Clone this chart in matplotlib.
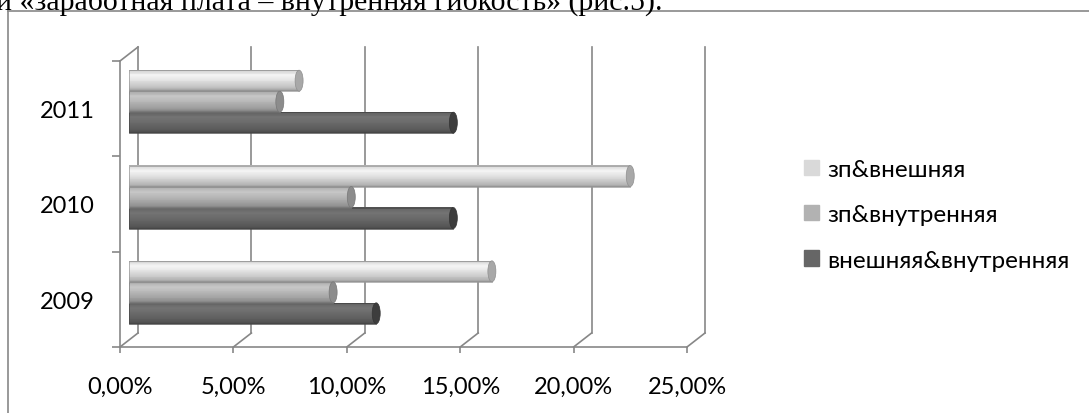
import matplotlib.pyplot as plt
import numpy as np
from matplotlib.patches import Patch, Ellipse, Rectangle
from matplotlib.lines import Line2D

# Data
years = ['2009', '2010', '2011']
series_names = ['зп&внешняя', 'зп&внутренняя', 'внешняя&внутренняя']
zp_ext = [0.160, 0.221, 0.075]      # зп&внешняя
zp_int = [0.090, 0.098, 0.0665]     # зп&внутренняя
ext_int = [0.109, 0.143, 0.143]     # внешняя&внутренняя
x_ticks = [0.0, 0.05, 0.10, 0.15, 0.20, 0.25]

W, H = 1089, 414
fig = plt.figure(figsize=(W / 100, H / 100), dpi=100)
plt.rcParams['font.family'] = ['Lato', 'DejaVu Sans']
label_size = 17

grid_col = '#878787'
lw = 1.2

# outer chart frame (runs off the right and bottom edges)
fig.add_artist(Line2D([8 / W, 1.0], [1 - 12 / H, 1 - 12 / H], color=grid_col, lw=lw))
fig.add_artist(Line2D([8 / W, 8 / W], [1 - 12 / H, 0.0], color=grid_col, lw=lw))

# caption text above the chart, cut by the top edge
fig.text(-4 / W, 1 - 10 / H, 'и «заработная плата – внутренняя гибкость» (рис.5).',
         family='Liberation Serif', fontsize=21.5, ha='left', va='baseline')

# front plane of the plot
ax_l, ax_b, ax_w, ax_h = 120, 348, 567, 286
ax = fig.add_axes([ax_l / W, 1 - ax_b / H, ax_w / W, ax_h / H])
ax.set_xlim(0, 0.25)
ax.set_ylim(0, 3)
ax.patch.set_visible(False)

# pixel -> data unit conversion for the depth offsets
px_x = 0.25 / ax_w
px_y = 3.0 / ax_h
depth_x, depth_y = 18 * px_x, 14 * px_y
mid_x, mid_y = 9 * px_x, 7 * px_y

# back wall gridlines and floor diagonals
for t in x_ticks:
    ax.plot([t + depth_x, t + depth_x], [depth_y, 3 + depth_y], color=grid_col, lw=lw,
            clip_on=False, zorder=1)
    ax.plot([t, t + depth_x], [0, depth_y], color=grid_col, lw=lw, clip_on=False, zorder=1)
# left wall top edge
ax.plot([0, depth_x], [3, 3 + depth_y], color=grid_col, lw=lw, clip_on=False, zorder=1)

# axes spines as the front edges
for s in ['top', 'right']:
    ax.spines[s].set_visible(False)
for s in ['left', 'bottom']:
    ax.spines[s].set_color(grid_col)
    ax.spines[s].set_linewidth(lw)

ax.set_xticks(x_ticks)
ax.set_xticklabels([f'{v * 100:.2f}%'.replace('.', ',') for v in x_ticks])
ax.tick_params(axis='x', length=4, width=lw, color=grid_col, pad=17, labelsize=label_size)
ax.set_yticks([0, 1, 2, 3])
ax.set_yticklabels([])
ax.tick_params(axis='y', length=6, width=lw, color=grid_col)
ax.set_yticks([0.5, 1.5, 2.5], minor=True)
ax.set_yticklabels(years, minor=True)
ax.tick_params(axis='y', which='minor', length=0, pad=18, labelsize=label_size)

# cylinder shading profile, top to bottom
prof_t = [0.0, 0.06, 0.25, 0.45, 0.75, 0.92, 1.0]
prof_m = [0.70, 1.0, 1.13, 1.06, 0.92, 0.82, 0.64]

bar_h = 21 * px_y
n_strips = 24
series = [(ext_int, 0.40, 0.24), (zp_int, 0.69, 0.55), (zp_ext, 0.85, 0.66)]
yc = np.arange(len(years)) + 0.5 + mid_y
for k, (vals, base, cap) in enumerate(series):
    centers = yc + (k - 1) * bar_h
    vals = np.array(vals)
    for j in range(n_strips):
        t = (j + 0.5) / n_strips
        g = min(base * np.interp(t, prof_t, prof_m), 0.96)
        y0 = centers + bar_h / 2 - (j + 1) * bar_h / n_strips
        ax.barh(y0, vals, height=bar_h / n_strips * 1.05, left=mid_x, align='edge',
                color=(g, g, g), lw=0, zorder=3)
    for v, c in zip(vals, centers):
        ax.add_patch(Ellipse((v + mid_x, c), 8 * px_x, bar_h, facecolor=(cap, cap, cap),
                             edgecolor=(cap * 0.85,) * 3, lw=0.5, zorder=4))
        ax.add_patch(Rectangle((mid_x, c - bar_h / 2), v, bar_h, fill=False,
                               edgecolor=(base * 0.7,) * 3, lw=0.5, zorder=3))

# legend
handles = [Patch(color='#d9d9d9'), Patch(color='#b2b2b2'), Patch(color='#666666')]
fig.legend(handles, series_names, loc='upper left',
           bbox_to_anchor=(804 / W, 1 - 160 / H), frameon=False, fontsize=17.5,
           handlelength=0.6, handleheight=0.6, handletextpad=0.35, labelspacing=1.0,
           borderaxespad=0, borderpad=0)

plt.savefig('out.png', dpi=100)
